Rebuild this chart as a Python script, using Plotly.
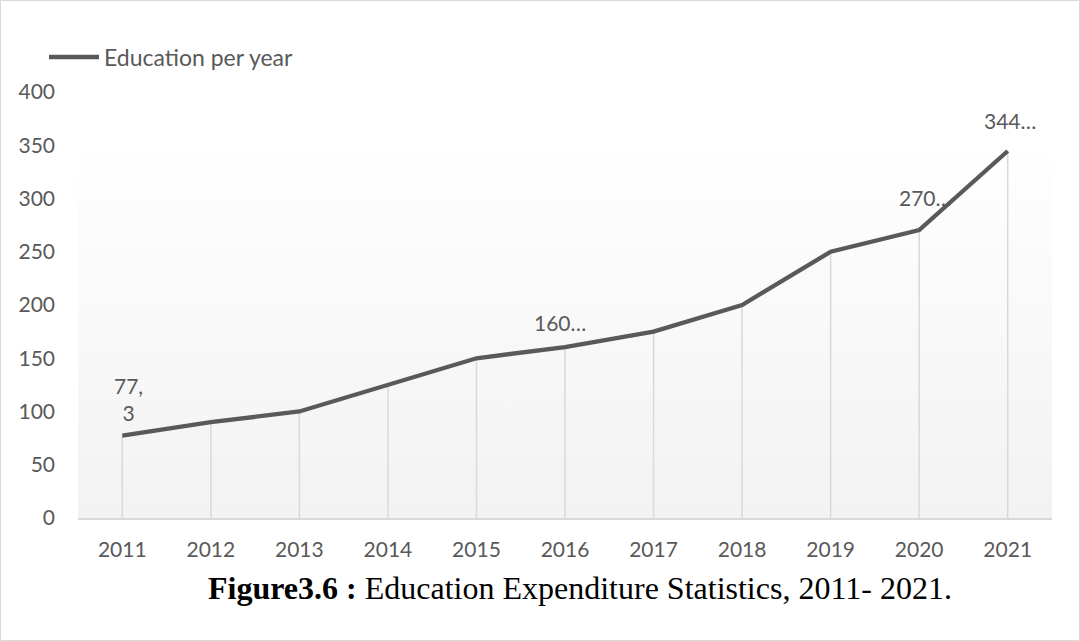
import plotly.graph_objects as go

# Education expenditure per year
years = ["2011", "2012", "2013", "2014", "2015", "2016", "2017", "2018", "2019", "2020", "2021"]
spending = [77.3, 90, 100, 125, 150, 160.5, 175, 200, 250, 270.4, 344.6]
series_name = "Education per year"
labelled_years = ["2011", "2016", "2020", "2021"]

W, H = 1080, 641
ML, MR, MT, MB = 78, 28, 92, 123
PW, PH = W - ML - MR, H - MT - MB

GREY_TXT = "#595959"
LINE_COL = "#595959"
DROP_COL = "#d9d9d9"
FONT = "Lato"


def px_to_paper_x(px):
    return (px - ML) / PW


def px_to_paper_y(py):
    return (H - MB - py) / PH


fig = go.Figure()

# plot-area gradient (white at top to light grey at the baseline), on the hidden base axis
grad_top = 355
fig.add_trace(go.Scatter(
    x=[0, 1, 1, 0, 0], y=[0, 0, grad_top, grad_top, 0],
    xaxis="x", yaxis="y", mode="lines", line=dict(width=0),
    fill="toself",
    fillgradient=dict(type="vertical", colorscale=[[0, "#f2f2f2"], [1, "#ffffff"]]),
    hoverinfo="skip", showlegend=False,
))

# drop lines from each point down to zero
dx, dy = [], []
for yr, v in zip(years, spending):
    dx += [yr, yr, None]
    dy += [0, v, None]
fig.add_trace(go.Scatter(
    x=dx, y=dy, xaxis="x2", yaxis="y", mode="lines",
    line=dict(color=DROP_COL, width=1.5),
    hoverinfo="skip", showlegend=False,
))

# main series
fig.add_trace(go.Scatter(
    x=years, y=spending, xaxis="x2", yaxis="y", mode="lines", name=series_name,
    line=dict(color=LINE_COL, width=4.3), showlegend=False,
))


# data labels (placed on the base axis, where category i sits at (i + 0.5) / n)
def fmt(v):
    s = f"{v:g}".replace(".", ",")
    if len(s) <= 4:
        head, tail = s.split(",") if "," in s else (s, "")
        return f"{head},<br>{tail}" if tail else head
    return s[:3] + "…"


label_shift = {"2011": (6, 9), "2016": (-5, 10), "2020": (6, 18), "2021": (2, 16)}
n = len(years)
for i, (yr, v) in enumerate(zip(years, spending)):
    if yr in labelled_years:
        sx, sy = label_shift[yr]
        fig.add_annotation(
            x=(i + 0.5) / n, y=v, xref="x", yref="y", text=fmt(v), showarrow=False,
            xanchor="center", yanchor="bottom", xshift=sx, yshift=sy,
            font=dict(family=FONT, size=21, color=GREY_TXT),
        )

# legend: line sample plus series name
fig.add_shape(
    type="line", xref="paper", yref="paper",
    x0=px_to_paper_x(49), x1=px_to_paper_x(99),
    y0=px_to_paper_y(57), y1=px_to_paper_y(57),
    line=dict(color=LINE_COL, width=4.3),
)
fig.add_annotation(
    xref="paper", yref="paper", x=px_to_paper_x(102), y=px_to_paper_y(57),
    xanchor="left", yanchor="middle", showarrow=False, text=series_name,
    font=dict(family=FONT, size=23, color=GREY_TXT),
)

# caption below the chart
fig.add_annotation(
    xref="paper", yref="paper",
    x=px_to_paper_x(580), y=px_to_paper_y(588),
    xanchor="center", yanchor="middle", showarrow=False,
    text="<b>Figure3.6 :</b> Education Expenditure Statistics, 2011- 2021.",
    font=dict(family="Liberation Serif", size=32, color="#000000"),
)

# thin frame around the whole chart
fig.add_shape(
    type="rect", xref="paper", yref="paper",
    x0=px_to_paper_x(0.5), x1=px_to_paper_x(W - 0.5),
    y0=px_to_paper_y(H - 0.5), y1=px_to_paper_y(0.5),
    line=dict(color="#d9d9d9", width=1), layer="below",
)

fig.update_layout(
    width=W, height=H,
    margin=dict(l=ML, r=MR, t=MT, b=MB, pad=0),
    paper_bgcolor="#ffffff", plot_bgcolor="rgba(0,0,0,0)",
    font=dict(family=FONT, size=21, color=GREY_TXT),
    showlegend=False,
    xaxis=dict(range=[0, 1], visible=False, fixedrange=True),
    xaxis2=dict(
        overlaying="x", anchor="y", side="bottom",
        type="category", range=[-0.5, len(years) - 0.5],
        showgrid=False, zeroline=False,
        showline=True, linecolor="#d9d9d9", linewidth=1.5,
        ticks="", ticklabelstandoff=12,
        tickfont=dict(family=FONT, size=21, color=GREY_TXT),
        fixedrange=True,
    ),
    yaxis=dict(
        range=[0, 400], dtick=50, showgrid=False, zeroline=False,
        showline=False, ticks="", ticklabelstandoff=22,
        tickfont=dict(family=FONT, size=21, color=GREY_TXT),
        fixedrange=True,
    ),
)

fig.write_html("out.html")
